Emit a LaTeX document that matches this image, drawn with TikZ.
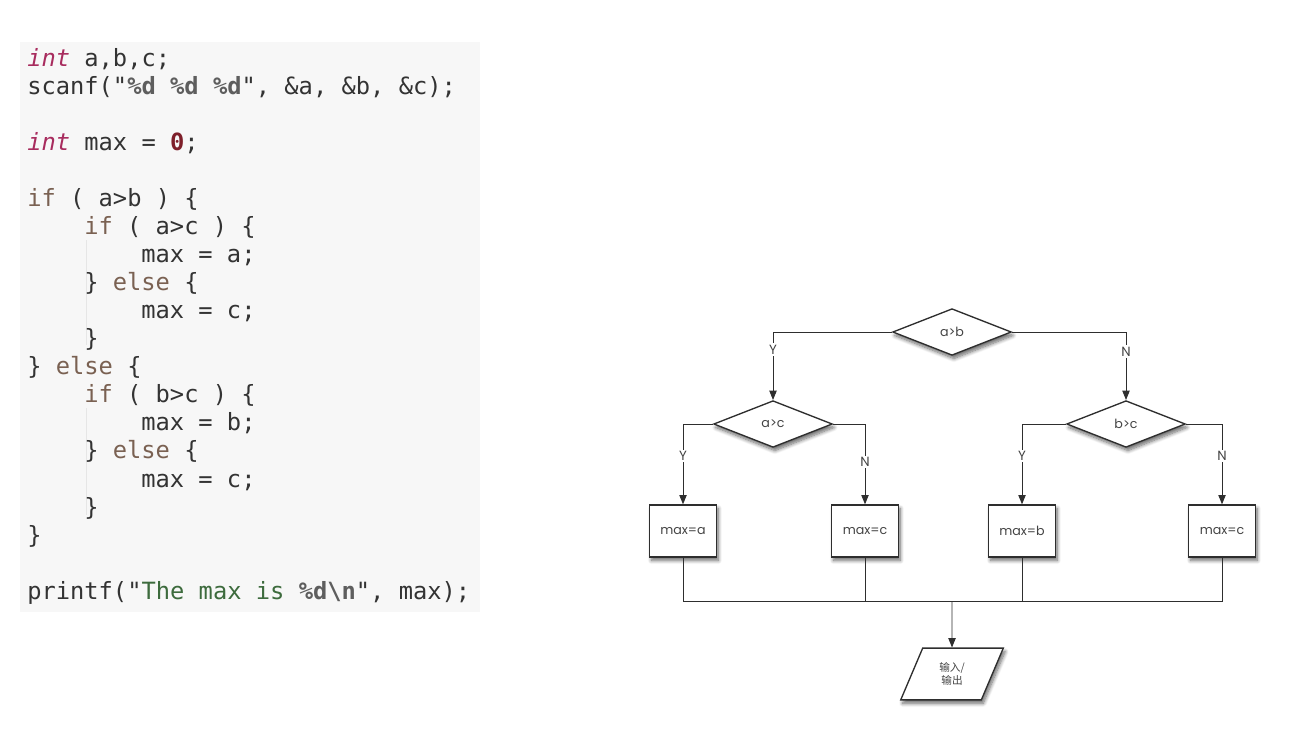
\documentclass[tikz,border=0pt]{standalone}
\usepackage{fontspec}
\setmonofont{DejaVu Sans Mono}
\newfontfamily\flowfont{Poppins}
\newfontfamily\cjk{Noto Sans CJK SC}
\usetikzlibrary{shapes.geometric,arrows.meta,shadows.blur}
\definecolor{codebg}{HTML}{F7F7F7}
\definecolor{ctxt}{HTML}{333333}
\definecolor{ckw}{HTML}{7A6152}
\definecolor{ctype}{HTML}{A82C5E}
\definecolor{cnum}{HTML}{7E1F2A}
\definecolor{cstr}{HTML}{3D6B3D}
\definecolor{cfmt}{HTML}{5E5E5E}
\definecolor{cguide}{HTML}{E6E6E6}
\definecolor{fline}{HTML}{2E2E2E}
\definecolor{ftext}{HTML}{444444}
\newcommand\ty[1]{{\color{ctype}\itshape #1}}
\newcommand\kw[1]{{\color{ckw}#1}}
\newcommand\num[1]{{\color{cnum}\bfseries #1}}
\newcommand\str[1]{{\color{cstr}#1}}
\newcommand\fmt[1]{{\color{cfmt}\bfseries #1}}
\tikzset{
  code/.style={anchor=base west, inner sep=0pt, text=ctxt,
    font=\ttfamily\fontsize{17.8pt}{20pt}\selectfont},
  fshadow/.style={blur shadow={shadow xshift=1.4pt, shadow yshift=-2.6pt,
    shadow blur steps=8, shadow opacity=60, shadow blur radius=2.8pt}},
  dec/.style={diamond, draw=fline, line width=1pt, fill=white, aspect=2.5,
    minimum width=89pt, minimum height=35pt, inner sep=0pt, text=ftext,
    font=\flowfont\fontsize{9.5pt}{11pt}\selectfont, fshadow},
  proc/.style={rectangle, draw=fline, line width=1pt, fill=white,
    minimum width=50pt, minimum height=39pt, inner sep=0pt, text=ftext,
    font=\flowfont\fontsize{9.5pt}{11pt}\selectfont, fshadow},
  iobox/.style={trapezium, trapezium left angle=67, trapezium right angle=113,
    draw=fline, line width=1pt, fill=white, minimum width=77pt,
    minimum height=36pt, inner sep=0pt, text=ftext, align=center,
    font=\cjk\fontsize{8pt}{9.5pt}\selectfont, fshadow},
  conn/.style={draw=fline, line width=0.7pt, -{Triangle[length=7pt,width=5.5pt]}},
  plain/.style={draw=fline, line width=0.7pt},
  lab/.style={fill=white, inner sep=1.2pt, text=ftext,
    font=\flowfont\fontsize{10pt}{11pt}\selectfont}
}
\begin{document}
\begin{tikzpicture}[x=0.75pt,y=-0.75pt]
\useasboundingbox (0,0) rectangle (1294,743);
% code panel
\fill[codebg] (20,42) rectangle (480,612);
\draw[cguide, line width=0.6pt] (86,240) -- (86,345);
\draw[cguide, line width=0.6pt] (86,408) -- (86,515);
\node[code] (l0) at (27,66) {\ty{int} a,b,c;};
\node[code] (l1) at (27,94) {scanf("\fmt{\%d} \fmt{\%d} \fmt{\%d}", \&a, \&b, \&c);};
\node[code] (l3) at (27,150) {\ty{int} max = \num{0};};
\node[code] (l5) at (27,206) {\kw{if} ( a>b ) \{};
\node[code] (l6) at (84,234) {\kw{if} ( a>c ) \{};
\node[code] (l7) at (141,262) {max = a;};
\node[code] (l8) at (84,290) {\} \kw{else} \{};
\node[code] (l9) at (141,318) {max = c;};
\node[code] (l10) at (84,346) {\}};
\node[code] (l11) at (27,374) {\} \kw{else} \{};
\node[code] (l12) at (84,402) {\kw{if} ( b>c ) \{};
\node[code] (l13) at (141,430) {max = b;};
\node[code] (l14) at (84,458) {\} \kw{else} \{};
\node[code] (l15) at (141,487) {max = c;};
\node[code] (l16) at (84,515) {\}};
\node[code] (l17) at (27,543) {\}};
\node[code] (l19) at (27,599) {printf("\str{The max is }\fmt{\%d\textbackslash n}", max);};
% flowchart
\node[dec] (d1) at (952,332) {a>b};
\node[dec] (d2) at (773,424) {a>c};
\node[dec] (d3) at (1126,424) {b>c};
\node[proc] (b1) at (683,531) {max=a};
\node[proc] (b2) at (865,531) {max=c};
\node[proc] (b3) at (1022,531) {max=b};
\node[proc] (b4) at (1222,531) {max=c};
\node[iobox] (io) at (952,674) {输入/\\输出};
\coordinate (m) at (952,601);
\draw[conn] (d1.west) -| node[lab,pos=0.63]{Y} (d2.north);
\draw[conn] (d1.east) -| node[lab,pos=0.645]{N} (d3.north);
\draw[conn] (d2.west) -| node[lab,pos=0.70]{Y} (b1.north);
\draw[conn] (d2.east) -| node[lab,pos=0.735]{N} (b2.north);
\draw[conn] (d3.west) -| node[lab,pos=0.70]{Y} (b3.north);
\draw[conn] (d3.east) -| node[lab,pos=0.70]{N} (b4.north);
\draw[plain] (b1.south) |- (m) -| (b4.south);
\draw[plain] (b2.south) -- (b2.south |- m);
\draw[plain] (b3.south) -- (b3.south |- m);
\draw[conn] (m) -- (io.north);
\end{tikzpicture}
\end{document}
